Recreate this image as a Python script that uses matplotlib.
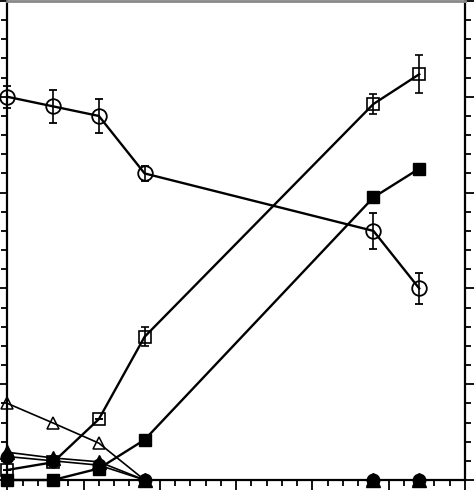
import matplotlib.pyplot as plt
from matplotlib.ticker import MultipleLocator

# -----------------------------------------
# Data
# -----------------------------------------

time = [0, 3, 6, 9, 24, 27]

open_circle = [80, 78, 76, 64, 52, 40]
open_circle_err = [2.3, 3.5, 3.5, 1.5, 3.7, 3.2]

open_square = [2.1, 3.7, 12.7, 29.9, 78.5, 84.7]
open_square_err = [0, 0, 0, 2.0, 2.0, 4.0]

filled_square = [0, 0, 2.4, 8.4, 59, 65]
filled_square_err = [0, 0, 0, 0, 0, 1.0]

open_triangle = [16, 11.9, 7.7, 0, 0, 0]
filled_triangle = [5.8, 4.6, 3.8, 0, 0, 0]
filled_circle = [4.9, 4.0, 3.1, 0, 0, 0]

# -----------------------------------------
# Figure
# -----------------------------------------

fig = plt.figure(figsize=(4.74, 4.90), dpi=100)
ax = fig.add_axes([0.0154, 0.0204, 0.9656, 0.9776])

lw = 1.7

ax.errorbar(time, open_circle, yerr=open_circle_err, color="black",
            lw=lw, marker="o", ms=10.5, mfc="none", mew=1.3,
            capsize=3, elinewidth=1.2, capthick=1.2, clip_on=False, zorder=3)

ax.errorbar(time, open_square, yerr=open_square_err, color="black",
            lw=lw, marker="s", ms=8.4, mfc="none", mew=1.2,
            capsize=3, elinewidth=1.2, capthick=1.2, clip_on=False, zorder=3)

ax.errorbar(time, filled_square, yerr=filled_square_err, color="black",
            lw=lw, marker="s", ms=9, mfc="black", mew=1,
            capsize=3, elinewidth=1.2, capthick=1.2, clip_on=False, zorder=4)

ax.plot(time, open_triangle, color="black", lw=1.2, marker="^", ms=9,
        mfc="none", mew=1.1, clip_on=False, zorder=2)

ax.plot(time, filled_triangle, color="black", lw=1.2, marker="^", ms=9.5,
        mfc="black", clip_on=False, zorder=5)

ax.plot(time, filled_circle, color="black", lw=1.2, marker="o", ms=9,
        mfc="black", clip_on=False, zorder=6)

# -----------------------------------------
# Axes styling
# -----------------------------------------

ax.set_xlim(0, 30)
ax.set_ylim(0, 100)

ax.xaxis.set_major_locator(MultipleLocator(5))
ax.xaxis.set_minor_locator(MultipleLocator(1))
ax.yaxis.set_major_locator(MultipleLocator(20))
ax.yaxis.set_minor_locator(MultipleLocator(4))

ax.tick_params(which="both", direction="out", width=1.3,
               labelbottom=False, labelleft=False, labelright=False,
               left=True, right=True, bottom=True, top=False)
ax.tick_params(which="major", length=7)
ax.tick_params(which="minor", length=4.5)

for side in ["left", "right", "bottom"]:
    ax.spines[side].set_linewidth(1.6)
ax.spines["top"].set_color("#888888")
ax.spines["top"].set_linewidth(2)

plt.savefig("out.png", dpi=100)
